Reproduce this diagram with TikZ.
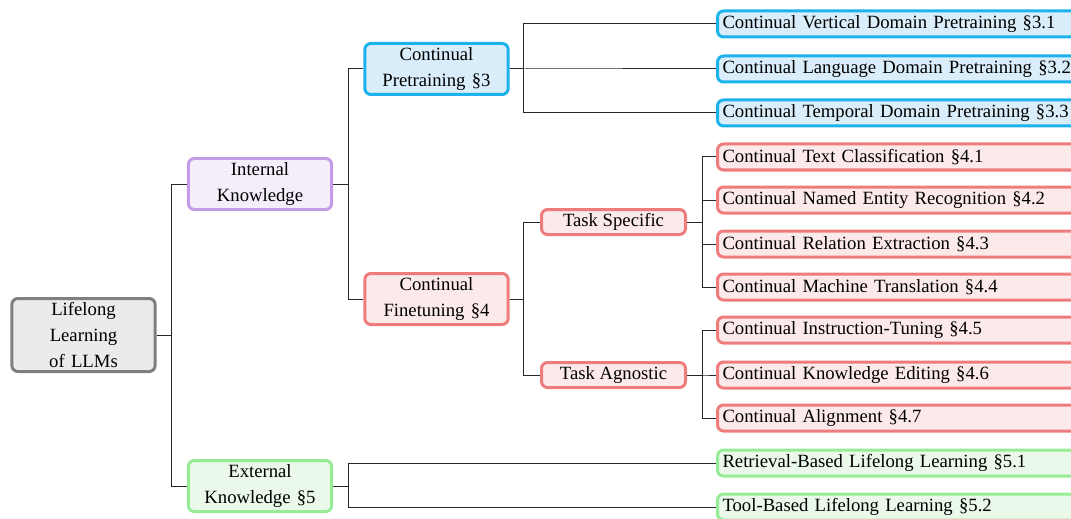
\documentclass[tikz,border=0pt]{standalone}
\usepackage{fontspec}
\setmainfont{Liberation Serif}
\definecolor{graydraw}{HTML}{7F7F7F}
\definecolor{grayfill}{HTML}{EBEBEB}
\definecolor{purpledraw}{HTML}{C39BE6}
\definecolor{purplefill}{HTML}{F3EEFA}
\definecolor{bluedraw}{HTML}{1CB2EC}
\definecolor{bluefill}{HTML}{D9EEFA}
\definecolor{reddraw}{HTML}{EE7C7C}
\definecolor{redfill}{HTML}{FCE9E9}
\definecolor{greendraw}{HTML}{95EC95}
\definecolor{greenfill}{HTML}{EBF9EA}
\begin{document}
\begin{tikzpicture}[x=0.5pt, y=-0.5pt, font=\fontsize{9.35}{13}\selectfont,
    box/.style = {draw, rounded corners=3pt, line width=1.5pt, align=center, inner ysep=1pt},
    main/.style = {box, text width=65pt, minimum height=25.5pt},
    task/.style = {box, minimum width=72pt, minimum height=12.5pt},
    leaf/.style = {box, anchor=west, text width=190pt, align=left, inner xsep=2.5pt, minimum height=13pt},
    grayc/.style = {draw=graydraw, fill=grayfill},
    purplec/.style = {draw=purpledraw, fill=purplefill},
    bluec/.style = {draw=bluedraw, fill=bluefill},
    redc/.style = {draw=reddraw, fill=redfill},
    greenc/.style = {draw=greendraw, fill=greenfill},
    link/.style = {draw=black!85, line width=0.5pt}]
    \path[use as bounding box, clip] (0,0) rectangle (1071,519);
    \node[main, grayc, minimum height=36.5pt] (llm) at (83.5,335) {Lifelong\\Learning\\of LLMs};
    \node[main, purplec] (internal) at (260,184) {Internal\\Knowledge};
    \node[main, greenc] (external) at (260,486) {External\\Knowledge §5};
    \node[main, bluec] (pretrain) at (436.5,69) {Continual\\Pretraining §3};
    \node[main, redc] (finetune) at (436.5,299) {Continual\\Finetuning §4};
    \node[task, redc] (specific) at (613.5,222) {Task Specific};
    \node[task, redc] (agnostic) at (613.5,375) {Task Agnostic};
    % leaves
    \node[leaf, bluec] (vertical) at (716,24) {Continual Vertical Domain Pretraining §3.1};
    \node[leaf, bluec] (language) at (716,69) {Continual Language Domain Pretraining §3.2};
    \node[leaf, bluec] (temporal) at (716,113) {Continual Temporal Domain Pretraining §3.3};
    \node[leaf, redc] (textcls) at (716,157) {Continual Text Classification §4.1};
    \node[leaf, redc] (ner) at (716,200) {Continual Named Entity Recognition §4.2};
    \node[leaf, redc] (relation) at (716,244) {Continual Relation Extraction §4.3};
    \node[leaf, redc] (mt) at (716,287) {Continual Machine Translation §4.4};
    \node[leaf, redc] (instruct) at (716,330) {Continual Instruction-Tuning §4.5};
    \node[leaf, redc] (editing) at (716,375) {Continual Knowledge Editing §4.6};
    \node[leaf, redc] (alignment) at (716,418) {Continual Alignment §4.7};
    \node[leaf, greenc] (retrieval) at (716,463) {Retrieval-Based Lifelong Learning §5.1};
    \node[leaf, greenc] (tool) at (716,507) {Tool-Based Lifelong Learning §5.2};
    % links
    \draw[link] (llm.east) -- ++(15,0) |- (internal.west);
    \draw[link] (llm.east) -- ++(15,0) |- (external.west);
    \draw[link] (internal.east) -- ++(15,0) |- (pretrain.west);
    \draw[link] (internal.east) -- ++(15,0) |- (finetune.west);
    \draw[link] (external.east) -- ++(15,0) |- (retrieval.west);
    \draw[link] (external.east) -- ++(15,0) |- (tool.west);
    \draw[link] (pretrain.east) -- ++(14,0) |- (vertical.west);
    \draw[link] (pretrain.east) -- ++(14,0) |- (language.west);
    \draw[link] (pretrain.east) -- ++(14,0) |- (temporal.west);
    \draw[link] (finetune.east) -- ++(14,0) |- (specific.west);
    \draw[link] (finetune.east) -- ++(14,0) |- (agnostic.west);
    \draw[link] (specific.east) -- ++(15,0) |- (textcls.west);
    \draw[link] (specific.east) -- ++(15,0) |- (ner.west);
    \draw[link] (specific.east) -- ++(15,0) |- (relation.west);
    \draw[link] (specific.east) -- ++(15,0) |- (mt.west);
    \draw[link] (agnostic.east) -- ++(15,0) |- (instruct.west);
    \draw[link] (agnostic.east) -- ++(15,0) |- (editing.west);
    \draw[link] (agnostic.east) -- ++(15,0) |- (alignment.west);
\end{tikzpicture}
\end{document}
